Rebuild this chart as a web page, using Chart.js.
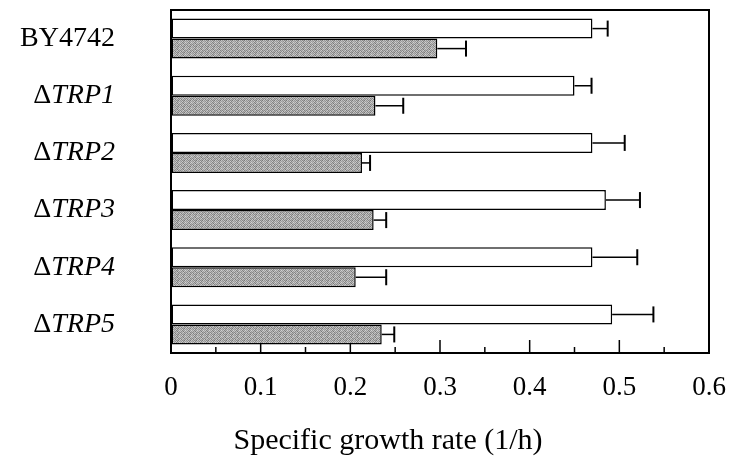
<!DOCTYPE html>
<html>
<head>
<meta charset="utf-8">
<script src="https://cdn.jsdelivr.net/npm/chart.js@4"></script>
<style>
  html, body { margin: 0; padding: 0; background: #fff; }
  #wrap { width: 734px; height: 466px; position: relative; }
</style>
</head>
<body>
<div id="wrap"><canvas id="c" width="734" height="466"></canvas></div>
<script>
// ---- data ----
const categories = ['BY4742', 'ΔTRP1', 'ΔTRP2', 'ΔTRP3', 'ΔTRP4', 'ΔTRP5'];
const whiteValues = [0.470, 0.450, 0.470, 0.485, 0.470, 0.492];
const whiteErrors = [0.017, 0.019, 0.036, 0.038, 0.050, 0.046];
const greyValues  = [0.297, 0.228, 0.213, 0.226, 0.206, 0.235];
const greyErrors  = [0.032, 0.031, 0.009, 0.014, 0.034, 0.014];
const xTickLabels = ['0', '0.1', '0.2', '0.3', '0.4', '0.5', '0.6'];
const xTitle = 'Specific growth rate (1/h)';

// ---- stippled grey fill (fixed pattern) ----
function makePattern() {
  const shades = [
    [160,200,130,180,150,210],
    [195,140,185,120,200,155],
    [135,180,160,205,130,175],
    [205,125,195,150,180,140],
    [150,190,135,170,120,200],
    [180,145,205,130,190,160]
  ];
  const p = document.createElement('canvas');
  p.width = 6; p.height = 6;
  const g = p.getContext('2d');
  for (let r = 0; r < 6; r++) for (let c = 0; c < 6; c++) {
    const v = shades[r][c];
    g.fillStyle = 'rgb(' + v + ',' + v + ',' + v + ')';
    g.fillRect(c, r, 1, 1);
  }
  return document.getElementById('c').getContext('2d').createPattern(p, 'repeat');
}
const greyFill = makePattern();

const SERIF = '"Liberation Serif", "Times New Roman", serif';

const errorBars = {
  id: 'errorBars',
  afterDatasetsDraw(chart) {
    const ctx = chart.ctx;
    const xs = chart.scales.x;
    const errs = [whiteErrors, greyErrors];
    chart.data.datasets.forEach((ds, i) => {
      const meta = chart.getDatasetMeta(i);
      meta.data.forEach((bar, j) => {
        const end = xs.getPixelForValue(ds.data[j] + errs[i][j]);
        const y = bar.y;
        const h = bar.height;
        ctx.save();
        ctx.strokeStyle = '#000';
        ctx.lineWidth = 1.5;
        ctx.beginPath();
        ctx.moveTo(bar.x, y);
        ctx.lineTo(end, y);
        ctx.stroke();
        ctx.lineWidth = 2;
        ctx.beginPath();
        ctx.moveTo(end, y - h * 0.4);
        ctx.lineTo(end, y + h * 0.4);
        ctx.stroke();
        ctx.restore();
      });
    });
  }
};

const frameAndTicks = {
  id: 'frameAndTicks',
  beforeDatasetsDraw(chart) {
    const ctx = chart.ctx;
    const xs = chart.scales.x;
    const a = chart.chartArea;
    ctx.save();
    ctx.strokeStyle = '#000';
    ctx.lineWidth = 1.5;
    xs.ticks.forEach(t => {
      const major = Math.round(t.value * 100) % 10 === 0;
      const px = xs.getPixelForValue(t.value);
      if (t.value <= 0 || t.value >= 0.6 - 1e-9) return;
      ctx.beginPath();
      ctx.moveTo(px, a.bottom);
      ctx.lineTo(px, a.bottom - (major ? 13 : 6));
      ctx.stroke();
    });
    ctx.restore();
  },
  afterDraw(chart) {
    const ctx = chart.ctx;
    const a = chart.chartArea;
    const ys = chart.scales.y;
    ctx.save();
    ctx.strokeStyle = '#000';
    ctx.lineWidth = 2;
    ctx.beginPath();
    ctx.moveTo(a.left, a.top);
    ctx.lineTo(a.right, a.top);
    ctx.lineTo(a.right, a.bottom);
    ctx.stroke();
    // category labels: upright Δ, italic gene name
    ctx.fillStyle = '#000';
    ctx.textBaseline = 'middle';
    const rightX = a.left - 56;
    categories.forEach((lab, i) => {
      const y = ys.getPixelForValue(i);
      if (lab.charAt(0) === 'Δ') {
        const rest = lab.slice(1);
        ctx.font = 'italic 28px ' + SERIF;
        ctx.textAlign = 'right';
        const w = ctx.measureText(rest).width;
        ctx.fillText(rest, rightX, y);
        ctx.font = '28px ' + SERIF;
        ctx.fillText('Δ', rightX - w, y);
      } else {
        ctx.font = '28px ' + SERIF;
        ctx.textAlign = 'right';
        ctx.fillText(lab, rightX, y);
      }
    });
    // axis title (offset left of the plot centre, as in the original)
    ctx.font = '30px ' + SERIF;
    ctx.textAlign = 'center';
    ctx.textBaseline = 'middle';
    ctx.fillText(xTitle, 388, 441);
    ctx.restore();
  }
};

new Chart(document.getElementById('c'), {
  type: 'bar',
  data: {
    labels: categories,
    datasets: [
      {
        label: 'white',
        data: whiteValues,
        backgroundColor: '#ffffff',
        borderColor: '#000000',
        borderWidth: 1.5,
        borderSkipped: false,
        categoryPercentage: 0.7,
        barPercentage: 1.0
      },
      {
        label: 'grey',
        data: greyValues,
        backgroundColor: greyFill,
        borderColor: '#000000',
        borderWidth: 1.5,
        borderSkipped: false,
        categoryPercentage: 0.7,
        barPercentage: 1.0
      }
    ]
  },
  options: {
    indexAxis: 'y',
    responsive: false,
    animation: false,
    devicePixelRatio: 1,
    layout: { padding: { top: 10, right: 25, left: 0, bottom: 0 } },
    plugins: { legend: { display: false }, tooltip: { enabled: false } },
    scales: {
      x: {
        min: 0,
        max: 0.6,
        afterFit(s) { s.height = 113; s.paddingLeft = 0; s.paddingRight = 0; },
        ticks: {
          stepSize: 0.05,
          autoSkip: false,
          maxRotation: 0,
          padding: 19,
          color: '#000',
          font: { family: SERIF, size: 27 },
          callback(v) {
            const k = Math.round(v * 100);
            if (k % 10 !== 0) return '';
            return xTickLabels[k / 10];
          }
        },
        grid: { display: true, drawOnChartArea: false, drawTicks: false },
        border: { display: true, color: '#000', width: 2 },
        title: { display: false }
      },
      y: {
        afterFit(s) { s.width = 171; },
        ticks: { display: false },
        grid: { display: false, drawTicks: false },
        border: { display: true, color: '#000', width: 2 }
      }
    }
  },
  plugins: [frameAndTicks, errorBars]
});
</script>
</body>
</html>
